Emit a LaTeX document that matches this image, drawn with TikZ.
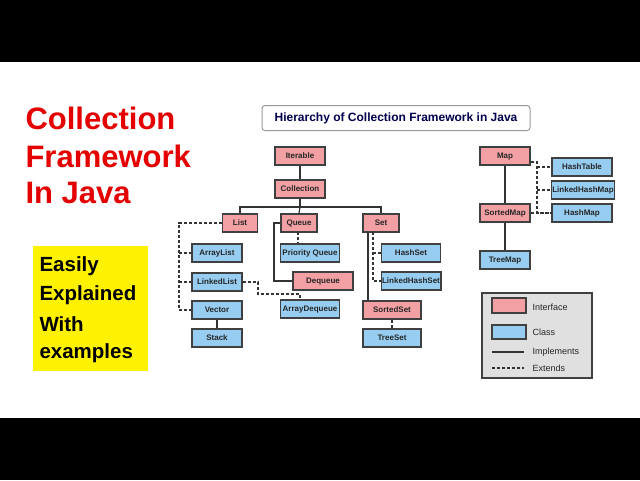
\documentclass[tikz,border=0pt]{standalone}
\usepackage{fontspec}
\setmainfont{Liberation Sans}
\definecolor{pk}{RGB}{242,160,164}
\definecolor{bl}{RGB}{150,205,240}
\begin{document}
\begin{tikzpicture}[x=1pt,y=-1pt,
 box/.style={draw=black!75,line width=1.2pt,minimum height=18pt,text height=6pt,text depth=1pt,inner xsep=1pt,font=\fontsize{8}{9}\selectfont\bfseries,text=black!85},
 intf/.style={box,fill=pk},
 cls/.style={box,fill=bl},
 imp/.style={line width=1.2pt,black!80},
 ext/.style={line width=1.1pt,black!80,dash pattern=on 3pt off 2pt}]
\useasboundingbox (0,0) rectangle (640,480);
\fill[black] (0,0) rectangle (640,62);
\fill[black] (0,418) rectangle (640,480);
% left titles
\node[anchor=west,font=\fontsize{31}{33}\selectfont\bfseries,text=red!90!black] (t1) at (22,118) {Collection};
\node[anchor=west,font=\fontsize{31}{33}\selectfont\bfseries,text=red!90!black] (t2) at (22,156) {Framework};
\node[anchor=west,font=\fontsize{31}{33}\selectfont\bfseries,text=red!90!black] (t3) at (22,193) {In Java};
\fill[yellow] (33,246) rectangle (148,371);
\node[anchor=west,font=\fontsize{20.5}{22}\selectfont\bfseries] (y1) at (36,266) {Easily};
\node[anchor=west,font=\fontsize{20.5}{22}\selectfont\bfseries] (y2) at (36,295) {Explained};
\node[anchor=west,font=\fontsize{20.5}{22}\selectfont\bfseries] (y3) at (36,324) {With};
\node[anchor=west,font=\fontsize{20.5}{22}\selectfont\bfseries] (y4) at (36,353) {examples};
% title
\node[draw=black!40,rounded corners=3pt,line width=1pt,minimum width=268pt,minimum height=25pt,font=\fontsize{12}{14}\selectfont\bfseries,text=blue!30!black] (title) at (396,118) {Hierarchy of Collection Framework in Java};
% nodes
\node[intf,minimum width=50pt] (it) at (300,156) {Iterable};
\node[intf,minimum width=50pt] (co) at (300,189) {Collection};
\node[intf,minimum width=35pt] (li) at (240,223) {List};
\node[intf,minimum width=36pt] (qu) at (299,223) {Queue};
\node[intf,minimum width=36pt] (se) at (381,223) {Set};
\node[cls,minimum width=50pt] (al) at (217,253) {ArrayList};
\node[cls,minimum width=50pt] (ll) at (217,282) {LinkedList};
\node[cls,minimum width=50pt] (ve) at (217,310) {Vector};
\node[cls,minimum width=50pt] (st) at (217,338) {Stack};
\node[cls,minimum width=59pt] (pq) at (310,253) {Priority Queue};
\node[intf,minimum width=60pt] (dq) at (323,281) {Dequeue};
\node[cls,minimum width=59pt] (ad) at (310,309) {ArrayDequeue};
\node[cls,minimum width=59pt] (hs) at (411,253) {HashSet};
\node[cls,minimum width=59pt] (lhs) at (411,281) {LinkedHashSet};
\node[intf,minimum width=58pt] (ss) at (392,310) {SortedSet};
\node[cls,minimum width=58pt] (ts) at (392,338) {TreeSet};
\node[intf,minimum width=50pt] (ma) at (505,156) {Map};
\node[cls,minimum width=60pt] (ht) at (582,167) {HashTable};
\node[cls,minimum width=62pt] (lhm) at (583,190) {LinkedHashMap};
\node[cls,minimum width=60pt] (hm) at (582,213) {HashMap};
\node[intf,minimum width=50pt] (sm) at (505,213) {SortedMap};
\node[cls,minimum width=50pt] (tm) at (505,260) {TreeMap};
% connectors
\draw[imp] (it) -- (co);
\draw[imp] (co.south) -- (300,207) -| (li.north);
\draw[imp] (300,207) -| (se.north);
\draw[imp] (300,207) -- (qu.north);
\draw[ext] (li.west) -| (179,310) -- (ve.west);
\draw[ext] (179,253) -- (al.west);
\draw[ext] (179,282) -- (ll.west);
\draw[imp] (ve) -- (st);
\draw[ext] (298,232) -- (pq.north -| 298,0);
\draw[imp] (qu.west) -- (274,223) |- (dq.west);
\draw[ext] (ll.east) -- (258,282) |- (300,294) -- (ad.north -| 300,0);
\draw[ext] (373,232) |- (lhs.west);
\draw[ext] (373,253) -- (hs.west);
\draw[imp] (368,232) -- (ss.north -| 368,0);
\draw[ext] (ss) -- (ts);
\draw[imp] (ma) -- (sm);
\draw[imp] (sm) -- (tm);
\draw[ext] (ma.east |- 0,162) -- (537,162) |- (hm.west);
\draw[ext] (537,167) -- (ht.west);
\draw[ext] (537,190) -- (lhm.west);
\draw[ext] (sm.east) -- (hm.west);
% legend
\node[draw=black!75,fill=black!12,line width=1.2pt,minimum width=110pt,minimum height=85pt] (lg) at (537,335.5) {};
\node[intf,minimum width=34pt,minimum height=15pt] (lgi) at (509,305.5) {};
\node[cls,minimum width=34pt,minimum height=14pt] (lgc) at (509,332) {};
\coordinate (l1a) at (492,352); \coordinate (l1b) at (524,352);
\coordinate (l2a) at (492,368); \coordinate (l2b) at (524,368);
\draw[imp] (l1a) -- (l1b);
\draw[ext] (l2a) -- (l2b);
\node[anchor=west,font=\fontsize{9}{10}\selectfont,text=black!85] (li1) at (529,307) {Interface};
\node[anchor=west,font=\fontsize{9}{10}\selectfont,text=black!85] (li2) at (529,332) {Class};
\node[anchor=west,font=\fontsize{9}{10}\selectfont,text=black!85] (li3) at (529,352) {Implements};
\node[anchor=west,font=\fontsize{9}{10}\selectfont,text=black!85] (li4) at (529,368) {Extends};
\end{tikzpicture}
\end{document}
